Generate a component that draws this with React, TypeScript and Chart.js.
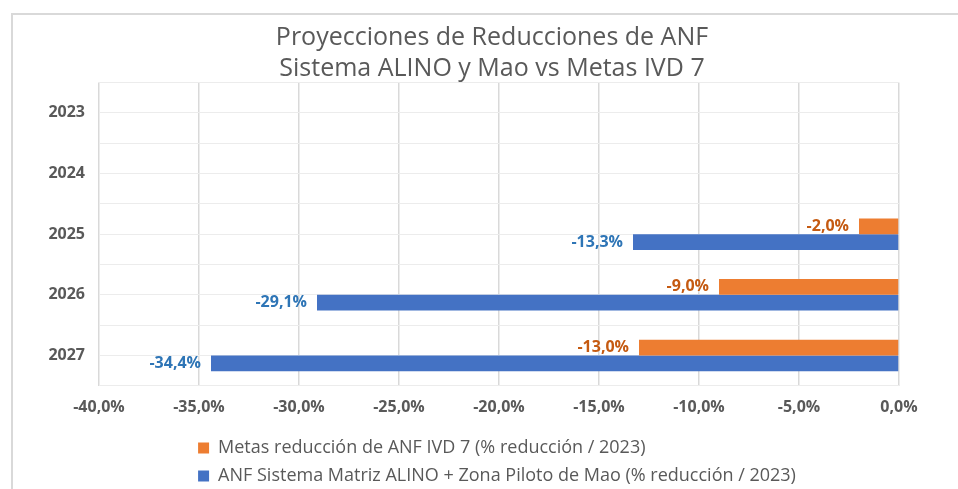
import React, { useEffect, useRef } from "react";
import { Chart, registerables } from "chart.js";

Chart.register(...registerables);

const categories = ["2023", "2024", "2025", "2026", "2027"];
const metasValues = [null, null, -2.0, -9.0, -13.0];
const anfValues = [null, null, -13.3, -29.1, -34.4];
const seriesLabels = [
  "Metas reducción de ANF IVD 7 (% reducción / 2023)",
  "ANF Sistema Matriz ALINO + Zona Piloto de Mao (% reducción / 2023)",
];
const seriesColors = ["#ED7D31", "#4472C4"];
const labelColors = ["#C55A11", "#2E75B6"];
const titleLines = [
  "Proyecciones de Reducciones de ANF",
  "Sistema ALINO y Mao vs Metas IVD 7",
];
const xMin = -40;
const xMax = 0;
const xStep = 5;

const FONT = '"Open Sans", "Noto Sans", sans-serif';
const fmt = (v: number) => v.toFixed(1).replace(".", ",") + "%";

const barLabelPlugin = {
  id: "barLabels",
  afterDatasetsDraw(chart: any) {
    const ctx = chart.ctx;
    chart.data.datasets.forEach((ds: any, di: number) => {
      const meta = chart.getDatasetMeta(di);
      meta.data.forEach((el: any, i: number) => {
        const v = ds.data[i];
        if (v === null || v === undefined) return;
        ctx.save();
        ctx.font = `bold 16px ${FONT}`;
        ctx.fillStyle = labelColors[di];
        ctx.textAlign = "right";
        ctx.textBaseline = "middle";
        ctx.fillText(fmt(v), el.x - 10, el.y);
        ctx.restore();
      });
    });
  },
};

const legendBlockPlugin = {
  id: "legendBlock",
  afterLayout(chart: any) {
    const lg = chart.legend;
    if (!lg || !lg.lineWidths) return;
    const maxLine = Math.max(...lg.lineWidths);
    const shift = (lg.right - lg.left - maxLine) / 2;
    lg.left += shift;
    lg.right += shift;
  },
};

export default function App() {
  const ref = useRef<HTMLCanvasElement | null>(null);

  useEffect(() => {
    if (!ref.current) return;
    const chart = new Chart(ref.current, {
      type: "bar",
      data: {
        labels: categories,
        datasets: [
          {
            label: seriesLabels[0],
            data: metasValues,
            backgroundColor: seriesColors[0],
            borderWidth: 0,
          },
          {
            label: seriesLabels[1],
            data: anfValues,
            backgroundColor: seriesColors[1],
            borderWidth: 0,
          },
        ],
      },
      options: {
        indexAxis: "y",
        responsive: false,
        animation: false,
        categoryPercentage: 0.52,
        barPercentage: 1.0,
        layout: { padding: { left: 16, right: 16, top: 0, bottom: -6 } },
        scales: {
          x: {
            min: xMin,
            max: xMax,
            ticks: {
              stepSize: xStep,
              callback: (v: any) => fmt(Number(v)),
              color: "#595959",
              font: { family: FONT, size: 16, weight: "bold" },
              padding: 12,
            },
            grid: { color: "#d9d9d9", lineWidth: 1.5, drawTicks: false },
            border: { display: false },
          },
          y: {
            offset: true,
            ticks: {
              color: "#595959",
              font: { family: FONT, size: 16, weight: "bold" },
              padding: 14,
            },
            grid: { offset: false, color: "#ececec", drawTicks: false },
            border: { display: false },
            afterFit: (scale: any) => {
              scale.width = 70;
            },
          },
          yb: {
            type: "category",
            labels: categories,
            position: "right",
            offset: true,
            ticks: { display: false },
            grid: { offset: true, color: "#ececec", drawTicks: false },
            border: { display: false },
            afterFit: (scale: any) => {
              scale.width = 56;
            },
          },
        },
        plugins: {
          title: {
            display: true,
            text: titleLines,
            color: "#595959",
            font: { family: FONT, size: 25, weight: "normal", lineHeight: 1.25 },
            padding: { top: 7, bottom: -2 },
          },
          legend: {
            position: "bottom",
            align: "start",
            labels: {
              color: "#595959",
              font: { family: FONT, size: 18 },
              boxWidth: 11,
              boxHeight: 11,
              padding: 10,
            },
          },
          tooltip: { enabled: false },
        },
      },
      plugins: [barLabelPlugin, legendBlockPlugin],
    } as any);
    return () => chart.destroy();
  }, []);

  return (
    <div
      style={{
        position: "fixed",
        left: 0,
        top: 0,
        width: 958,
        height: 489,
        overflow: "hidden",
        background: "#ffffff",
      }}
    >
      <div
        style={{
          position: "absolute",
          left: 11,
          top: 13,
          borderLeft: "2px solid #d9d9d9",
          borderTop: "2px solid #d9d9d9",
          width: 958,
          height: 474,
        }}
      >
        <canvas ref={ref} width={958} height={474} style={{ display: "block", width: 958, height: 474 }} />
      </div>
    </div>
  );
}
